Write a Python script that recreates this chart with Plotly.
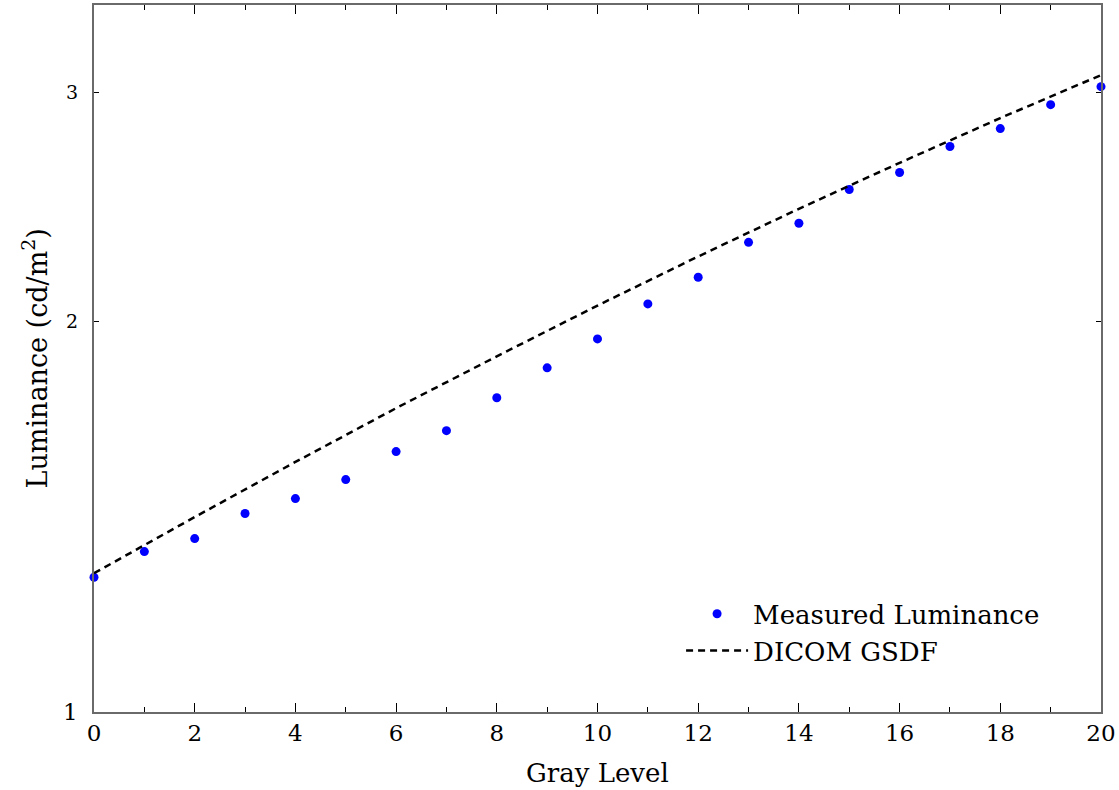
import math
import plotly.graph_objects as go

# ---- data ----
gray_levels = list(range(21))
measured_luminance = [1.270, 1.329, 1.360, 1.422, 1.460, 1.510, 1.587, 1.647, 1.746, 1.841,
                      1.938, 2.062, 2.162, 2.300, 2.379, 2.526, 2.603, 2.726, 2.814, 2.936, 3.031]
gsdf_levels = [0, 2, 4, 6, 8, 10, 12, 14, 16, 18, 20]
gsdf_luminance = [1.279, 1.413, 1.558, 1.714, 1.879, 2.056, 2.243, 2.441, 2.648, 2.867, 3.094]
x_ticks = [0, 2, 4, 6, 8, 10, 12, 14, 16, 18, 20]
y_major_ticks = [1]
y_minor_ticks = [2, 3]

FONT = "DejaVu Serif"
FRAME = "#6a6a6a"

fig = go.Figure()
fig.add_trace(go.Scatter(
    x=gray_levels, y=measured_luminance, mode="markers",
    name="Measured Luminance",
    marker=dict(color="#0000ff", size=9),
    cliponaxis=False,
))
fig.add_trace(go.Scatter(
    x=gsdf_levels, y=gsdf_luminance, mode="lines",
    name="DICOM GSDF",
    line=dict(color="black", width=2.5, dash="7px,5px"),
    cliponaxis=False,
))

annotations = []
for v in y_major_ticks:
    annotations.append(dict(xref="paper", yref="y", x=0, y=math.log10(v), text=str(v),
                            showarrow=False, xanchor="right", yanchor="middle", xshift=-14,
                            font=dict(family=FONT, size=23, color="black")))
for v in y_minor_ticks:
    annotations.append(dict(xref="paper", yref="y", x=0, y=math.log10(v), text=str(v),
                            showarrow=False, xanchor="right", yanchor="middle", xshift=-14,
                            font=dict(family=FONT, size=19, color="black")))
annotations.append(dict(xref="paper", yref="paper", x=0.5, y=0, yshift=-44,
                        text="Gray Level", showarrow=False, xanchor="center", yanchor="top",
                        font=dict(family=FONT, size=26, color="black")))
annotations.append(dict(xref="paper", yref="paper", x=0, xshift=-59, y=0.5,
                        text="Luminance (cd/m<sup>2</sup>)", textangle=-90, showarrow=False,
                        xanchor="center", yanchor="middle",
                        font=dict(family=FONT, size=27, color="black")))

fig.update_layout(
    width=1119, height=790,
    margin=dict(l=94, r=18, t=3, b=78),
    paper_bgcolor="white", plot_bgcolor="white",
    showlegend=True,
    legend=dict(x=0.583, y=0.172, xanchor="left", yanchor="top",
                bgcolor="rgba(0,0,0,0)", itemwidth=62,
                font=dict(family=FONT, size=26, color="black")),
    annotations=annotations,
    font=dict(family=FONT, color="black"),
)
fig.update_xaxes(
    range=[0, 20], tickvals=x_ticks, ticktext=[str(t) for t in x_ticks],
    showgrid=False, zeroline=False,
    showline=True, linecolor=FRAME, linewidth=1.5, mirror="ticks",
    ticks="inside", ticklen=9, tickwidth=1, tickcolor="black",
    minor=dict(dtick=1, ticks="inside", ticklen=5, tickwidth=1, tickcolor="black", showgrid=False),
    tickfont=dict(family=FONT, size=23, color="black"),
)
fig.update_yaxes(
    type="log", range=[0, 0.5445], tickvals=[1, 2, 3], showticklabels=False,
    showgrid=False, zeroline=False,
    showline=True, linecolor=FRAME, linewidth=1.5, mirror="ticks",
    ticks="inside", ticklen=5, tickwidth=1, tickcolor="black",
)

fig.write_html("out.html",
               config={"displayModeBar": False},
               post_script="document.body.style.margin='0';document.body.style.overflow='hidden';")
